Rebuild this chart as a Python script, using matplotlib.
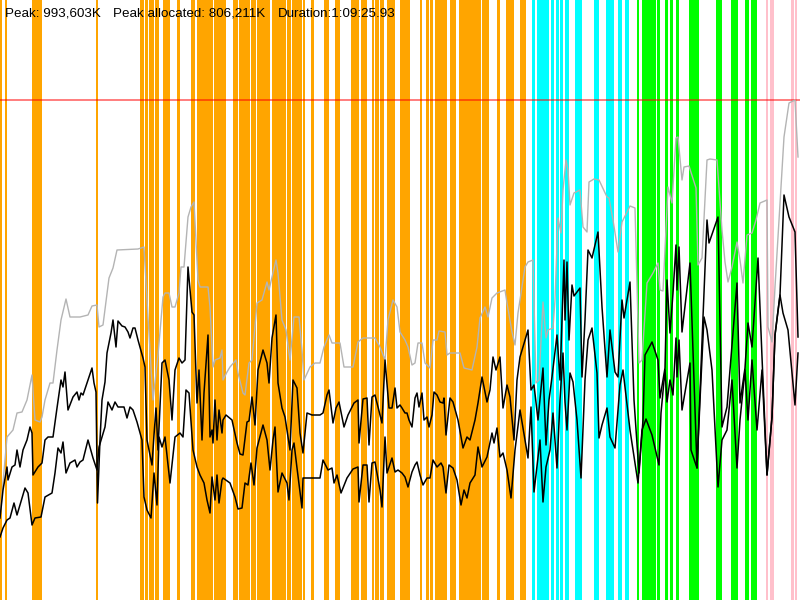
import matplotlib
matplotlib.use("Agg")
import matplotlib.pyplot as plt

# ---- data (time axis: 0..800 samples, memory axis: 0..600 units; peak = 500) ----
duration_span = (0, 800)
memory_span = (0, 600)
peak_level = 500

header_texts = ["Peak: 993,603K", "Peak allocated: 806,211K", "Duration:1:09:25.93"]
header_x = [5, 113, 278]

orange_phases = [(0, 2), (5, 7), (32, 35), (35.7, 42), (96, 97.5), (140, 144), (145, 148),
                 (149.5, 154), (155, 159), (163, 170), (177, 180), (191.5, 195), (197, 201.7),
                 (202.7, 204), (204.5, 212.7), (214, 223.3), (224, 226), (233.3, 237.3),
                 (239.3, 240.5), (241, 249.3), (251.7, 256), (257.7, 269.3), (272.3, 278),
                 (278.6, 286), (287, 290.7), (292.7, 301.7), (303.3, 305), (311.7, 314),
                 (324, 328.3), (335, 337), (337.6, 339.3), (351.7, 355), (355.7, 359),
                 (361, 366.7), (372.7, 374), (375, 378.3), (380, 383.3), (387.7, 395),
                 (400, 406.7), (407.3, 410), (420, 421.7), (426.7, 428.3), (430.7, 432.7),
                 (435, 439.3), (440, 446.7), (450.7, 456), (459, 466), (466.7, 476),
                 (476.7, 480.7), (482.7, 488.3), (497.7, 500), (506.7, 514), (520.7, 526)]
cyan_phases = [(532.7, 535), (537.3, 548.3), (551.7, 554), (556.7, 559), (560.7, 562.7),
               (565.7, 568.3), (575.5, 581.7), (594.5, 598.8), (606.7, 614), (617.8, 621.7),
               (625, 628.3)]
green_phases = [(637.3, 639), (642.7, 650), (650.7, 656), (657.3, 660), (665.3, 667.3),
                (670, 672.7), (676.7, 678.3), (689, 694.3), (695, 698.3), (716, 721.7),
                (731, 737.7), (745, 749), (751.7, 756.7)]
pink_phases = [(766, 767.7), (770.7, 773.3), (791.7, 793.3), (795, 797)]

gray_total = [(0, 83), (7, 163), (13, 170), (17, 187), (22, 188), (27, 200), (32, 225), (35, 180),
    (40, 178), (42, 183), (45, 200), (50, 217), (53, 217), (57, 250), (61, 280), (66, 301),
    (70, 283), (80, 283), (88, 285), (92, 294), (97, 295), (99, 273), (103, 275), (109, 322),
    (113, 332), (117, 350), (138, 351), (144, 353), (148, 283), (153, 200), (158, 245), (163, 303),
    (165, 307), (169, 307), (172, 293), (175, 293), (179, 307), (181, 333), (184, 333), (188, 383),
    (191, 393), (194, 398), (198, 320), (200, 313), (208, 313), (210, 293), (213, 233), (215, 240),
    (220, 242), (222, 250), (223, 220), (227, 228), (230, 233), (236, 240), (238, 227), (243, 207),
    (245, 205), (249, 237), (252, 240), (257, 297), (262, 300), (267, 318), (269, 310), (273, 327),
    (276, 340), (278, 327), (282, 280), (286, 270), (290, 240), (294, 283), (299, 283), (302, 250),
    (304, 220), (310, 233), (315, 237), (320, 237), (324, 253), (329, 265), (332, 257), (340, 257),
    (344, 233), (353, 233), (358, 258), (363, 262), (375, 262), (380, 253), (385, 240), (388, 280),
    (393, 300), (397, 293), (400, 268), (405, 260), (408, 253), (412, 235), (415, 237), (418, 257),
    (422, 257), (425, 237), (430, 232), (433, 260), (437, 260), (439, 269), (445, 268), (447, 245),
    (450, 247), (460, 247), (464, 232), (472, 230), (477, 253), (480, 282), (485, 293), (488, 283),
    (492, 302), (497, 307), (505, 310), (507, 297), (512, 268), (515, 255), (518, 287), (525, 333),
    (528, 338), (533, 340), (536, 217), (539, 220), (543, 298), (546, 262), (548, 270), (553, 272),
    (555, 300), (558, 382), (561, 367), (563, 410), (566, 440), (568, 430), (570, 395), (574, 407),
    (580, 410), (583, 373), (587, 368), (589, 418), (594, 421), (599, 420), (607, 403), (609, 402),
    (613, 380), (618, 348), (622, 378), (630, 394), (635, 392), (639, 237), (642, 240), (647, 317),
    (653, 327), (658, 337), (660, 310), (663, 309), (668, 413), (672, 397), (676, 462), (678, 463),
    (682, 420), (684, 433), (689, 434), (696, 412), (698, 335), (702, 342), (707, 440), (710, 441),
    (717, 440), (722, 370), (725, 338), (728, 318), (732, 333), (737, 358), (740, 340), (743, 317),
    (747, 365), (752, 367), (756, 380), (760, 397), (767, 400), (768, 273), (772, 258), (775, 313),
    (780, 397), (784, 463), (789, 497), (795, 500), (798, 443)]

black_upper = [(0, 82), (3, 110), (7, 133), (8, 120), (12, 133), (15, 135), (17, 150), (20, 133),
    (23, 150), (27, 160), (30, 173), (32, 167), (33, 125), (38, 133), (42, 137), (45, 160),
    (48, 163), (53, 163), (57, 192), (61, 220), (63, 213), (65, 228), (68, 190), (73, 203),
    (77, 208), (79, 200), (81, 207), (83, 205), (88, 220), (92, 232), (94, 217), (96, 208),
    (97.5, 97), (100, 160), (102, 200), (105, 218), (107, 247), (111, 267), (113, 280), (116, 253),
    (118, 279), (122, 274), (125, 273), (128, 268), (130, 262), (133, 272), (135, 272), (138, 260),
    (143, 242), (145, 233), (147, 160), (149, 150), (152, 135), (154, 165), (156, 192), (158, 150),
    (162, 237), (165, 240), (169, 220), (172, 180), (175, 230), (179, 242), (182, 237), (185, 240),
    (188, 333), (192, 288), (194, 285), (197, 197), (199, 230), (202, 160), (204, 207), (208, 265),
    (210, 163), (212, 170), (213, 157), (215, 200), (217, 160), (219, 190), (222, 167), (223, 180),
    (226, 185), (232, 180), (237, 157), (240, 146), (243, 145), (247, 178), (249, 179), (252, 203),
    (255, 175), (258, 230), (263, 250), (267, 237), (269, 217), (272, 262), (276, 285), (278, 217),
    (282, 192), (285, 183), (290, 150), (293, 220), (297, 212), (300, 167), (303, 147), (307, 187),
    (312, 185), (320, 185), (323, 187), (327, 205), (329, 210), (333, 177), (336, 192), (339, 198),
    (344, 173), (348, 185), (354, 197), (358, 200), (359, 157), (363, 201), (367, 202), (369, 155),
    (372, 203), (375, 205), (382, 177), (385, 240), (389, 192), (392, 192), (395, 212), (397, 192),
    (400, 195), (402, 192), (405, 187), (407, 187), (409, 180), (412, 173), (415, 202), (417, 207),
    (419, 193), (422, 207), (424, 180), (427, 183), (429, 173), (432, 185), (434, 208), (437, 205),
    (440, 198), (443, 197), (444, 202), (446, 165), (450, 202), (453, 198), (458, 180), (463, 152),
    (467, 163), (470, 160), (475, 180), (478, 197), (482, 223), (487, 198), (490, 210), (493, 243),
    (496, 230), (500, 243), (503, 192), (507, 215), (510, 203), (514, 160), (517, 220), (520, 243),
    (523, 253), (528, 270), (531, 210), (534, 215), (538, 180), (543, 232), (546, 155), (549, 200),
    (552, 223), (557, 265), (560, 220), (562, 280), (564, 340), (565, 280), (567, 338), (569, 260),
    (572, 315), (574, 304), (580, 312), (582, 223), (585, 280), (588, 350), (592, 342), (598, 368),
    (602, 293), (607, 223), (610, 270), (615, 228), (618, 223), (622, 300), (624, 282), (630, 318),
    (634, 200), (639, 127), (643, 180), (645, 245), (652, 258), (658, 240), (660, 202), (665, 232),
    (667, 320), (670, 267), (673, 307), (676, 355), (677, 310), (679, 353), (682, 268), (690, 337),
    (697, 132), (703, 283), (707, 380), (709, 357), (718, 383), (722, 173), (727, 193), (737, 317),
    (740, 197), (745, 232), (748, 277), (752, 253), (758, 342), (762, 243), (767, 125), (772, 183),
    (775, 265), (780, 305), (784, 405), (789, 383), (795, 368), (798, 263)]

black_lower = [(0, 63), (3, 72), (7, 80), (10, 82), (14, 97), (17, 85), (20, 95), (25, 112),
    (28, 107), (32, 75), (35, 82), (41, 83), (45, 103), (52, 107), (55, 127), (58, 152), (61, 147),
    (63, 158), (66, 127), (70, 137), (75, 140), (77, 133), (80, 138), (83, 140), (88, 160), (93, 142),
    (97, 130), (99, 153), (105, 173), (108, 198), (112, 190), (115, 198), (118, 193), (124, 193),
    (127, 182), (130, 193), (133, 190), (137, 178), (142, 160), (144, 103), (147, 90), (151, 82),
    (154, 127), (157, 95), (159, 163), (162, 153), (165, 163), (170, 117), (175, 163), (180, 167),
    (183, 163), (186, 210), (189, 207), (193, 150), (197, 133), (200, 125), (204, 117), (207, 100),
    (210, 87), (212, 123), (215, 100), (217, 125), (219, 97), (222, 120), (223, 122), (230, 117),
    (235, 103), (238, 91), (242, 92), (245, 117), (248, 115), (251, 137), (254, 115), (257, 152),
    (263, 175), (267, 160), (270, 130), (273, 160), (275, 173), (278, 108), (282, 127), (287, 117),
    (289, 100), (292, 150), (294, 157), (297, 132), (302, 92), (303, 122), (307, 122), (312, 122),
    (320, 122), (323, 140), (328, 130), (332, 132), (334, 117), (337, 125), (341, 107), (347, 122),
    (353, 131), (358, 133), (359, 98), (363, 135), (367, 135), (369, 98), (372, 137), (375, 138),
    (380, 110), (382, 93), (385, 163), (387, 127), (392, 142), (395, 128), (398, 130), (402, 127),
    (405, 123), (408, 113), (412, 128), (415, 135), (417, 138), (420, 125), (423, 115), (427, 122),
    (430, 122), (433, 140), (437, 133), (441, 137), (443, 133), (446, 107), (449, 135), (453, 132),
    (457, 120), (461, 95), (464, 110), (467, 102), (470, 117), (475, 125), (478, 153), (482, 133),
    (487, 143), (492, 167), (494, 157), (497, 172), (500, 143), (503, 147), (507, 130), (511, 102),
    (515, 150), (520, 190), (528, 142), (531, 193), (534, 108), (540, 160), (543, 98), (546, 133),
    (550, 150), (553, 187), (557, 132), (560, 200), (563, 247), (565, 198), (567, 170), (570, 227),
    (573, 218), (577, 180), (581, 122), (585, 220), (588, 260), (592, 272), (597, 227), (599, 162),
    (602, 175), (607, 192), (610, 163), (615, 152), (620, 215), (623, 230), (630, 170), (638, 117),
    (642, 170), (646, 181), (652, 165), (659, 135), (661, 187), (665, 230), (667, 198), (670, 220),
    (673, 205), (676, 262), (677, 223), (679, 260), (682, 190), (690, 237), (691, 150), (697, 132),
    (700, 200), (704, 283), (707, 270), (712, 230), (718, 113), (722, 160), (727, 170), (732, 220),
    (737, 132), (740, 180), (745, 230), (748, 180), (752, 240), (757, 170), (762, 230), (767, 125),
    (772, 183), (775, 265), (780, 305), (783, 287), (788, 270), (795, 195), (798, 247)]

# ---- figure ----
fig = plt.figure(figsize=(8, 6), dpi=100)
ax = fig.add_axes([0, 0, 1, 1])
ax.set_xlim(*duration_span)
ax.set_ylim(*memory_span)
ax.axis("off")

pad = 0.3
for phases, col in [(orange_phases, "#FFA500"), (cyan_phases, "#00FFFF"),
                    (green_phases, "#00FF00"), (pink_phases, "#FFC0CB")]:
    for a, b in phases:
        ax.axvspan(a - pad, b + pad, color=col, lw=0, zorder=1)

ax.axhline(peak_level, color="red", alpha=0.55, lw=1.3, zorder=2)

def draw(series, **kw):
    xs = [p[0] for p in series]
    ys = [p[1] for p in series]
    ax.plot(xs, ys, **kw)

draw(gray_total, color="#b4b4b4", lw=1.0, zorder=3)
draw(black_upper, color="black", lw=1.1, zorder=4)
draw(black_lower, color="black", lw=1.1, zorder=4)

for txt, px in zip(header_texts, header_x):
    fig.text(px / 800, 1 - 17 / 600, txt, fontsize=9.6, va="baseline", ha="left",
             family="Liberation Sans", color="black", zorder=10)

fig.savefig("out.png", dpi=100)
